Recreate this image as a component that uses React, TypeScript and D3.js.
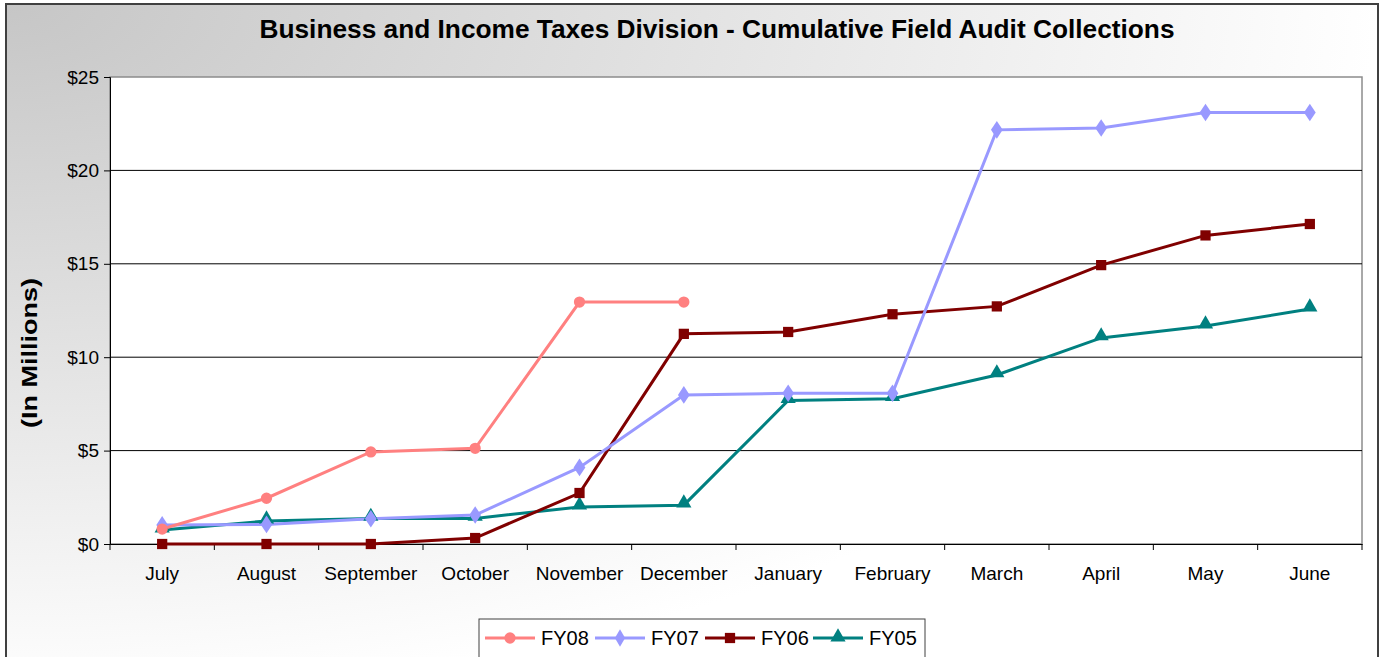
import * as d3 from "d3";
import { useEffect, useRef } from "react";

const months = [
  "July", "August", "September", "October", "November", "December",
  "January", "February", "March", "April", "May", "June",
];

const fy08 = [0.8, 2.45, 4.93, 5.12, 12.95, 12.95];
const fy07 = [1.02, 1.05, 1.35, 1.55, 4.1, 7.98, 8.07, 8.07, 22.17, 22.27, 23.1, 23.1];
const fy06 = [0, 0, 0, 0.32, 2.73, 11.25, 11.35, 12.3, 12.72, 14.93, 16.52, 17.13];
const fy05 = [0.75, 1.23, 1.37, 1.37, 1.98, 2.08, 7.68, 7.78, 9.05, 11.03, 11.67, 12.58];

const yTicks = [0, 5, 10, 15, 20, 25];

const series = [
  { name: "FY08", values: fy08, color: "#ff8080", symbol: d3.symbolCircle, size: 100 },
  { name: "FY07", values: fy07, color: "#9999ff", symbol: d3.symbolDiamond, size: 90 },
  { name: "FY06", values: fy06, color: "#800000", symbol: d3.symbolSquare, size: 105 },
  { name: "FY05", values: fy05, color: "#008080", symbol: d3.symbolTriangle, size: 100 },
];

export default function App() {
  const ref = useRef<SVGSVGElement>(null);

  useEffect(() => {
    if (!ref.current) return;
    const svg = d3.select(ref.current);
    svg.selectAll("*").remove();

    const width = 1383;
    const height = 657;
    const font = "'Liberation Sans', Arial, sans-serif";

    const margin = { left: 110, right: 21, top: 77, bottom: 113 };
    const innerW = width - margin.left - margin.right;
    const innerH = height - margin.top - margin.bottom;

    const defs = svg.append("defs");
    const grad = defs.append("radialGradient")
      .attr("id", "bg")
      .attr("cx", 0).attr("cy", 0).attr("r", 1)
      .attr("fx", 0).attr("fy", 0);
    grad.append("stop").attr("offset", "0%").attr("stop-color", "#c6c6c6");
    grad.append("stop").attr("offset", "100%").attr("stop-color", "#ffffff");

    svg.append("rect")
      .attr("width", width).attr("height", height)
      .attr("fill", "#ffffff");
    svg.append("rect")
      .attr("x", 6).attr("y", 4)
      .attr("width", 1372).attr("height", 700)
      .attr("fill", "url(#bg)")
      .attr("stroke", "#404040")
      .attr("stroke-width", 2);

    const x = d3.scaleBand<string>()
      .domain(months)
      .range([margin.left, margin.left + innerW]);
    const y = d3.scaleLinear()
      .domain([0, 25])
      .range([margin.top + innerH, margin.top]);

    // plot area
    svg.append("rect")
      .attr("x", margin.left).attr("y", margin.top)
      .attr("width", innerW).attr("height", innerH)
      .attr("fill", "#ffffff")
      .attr("stroke", "#8c8c8c")
      .attr("stroke-width", 1.5);

    // gridlines
    svg.append("g")
      .selectAll("line")
      .data(yTicks.filter(t => t > 0 && t < 25))
      .enter()
      .append("line")
      .attr("x1", margin.left).attr("x2", margin.left + innerW)
      .attr("y1", d => y(d)).attr("y2", d => y(d))
      .attr("stroke", "#000")
      .attr("stroke-width", 1);

    // y axis
    const yAxis = svg.append("g")
      .attr("transform", `translate(${margin.left},0)`)
      .call(
        d3.axisLeft(y)
          .tickValues(yTicks)
          .tickSize(6)
          .tickPadding(5)
          .tickFormat(d => `$${d}`)
      );
    yAxis.select(".domain").attr("stroke", "#000");
    yAxis.selectAll("line").attr("stroke", "#000");
    yAxis.selectAll("text")
      .attr("font-family", font)
      .attr("font-size", "19px")
      .attr("fill", "#000");

    // x axis
    const xAxis = svg.append("g")
      .attr("transform", `translate(0,${margin.top + innerH})`)
      .call(d3.axisBottom(x).tickSize(0).tickPadding(23));
    xAxis.select(".domain").attr("stroke", "#000");
    xAxis.selectAll("text")
      .attr("font-family", font)
      .attr("font-size", "19px")
      .attr("fill", "#000");
    // category boundary ticks
    xAxis.append("g")
      .selectAll("line")
      .data(d3.range(months.length + 1))
      .enter()
      .append("line")
      .attr("x1", i => margin.left + i * x.step())
      .attr("x2", i => margin.left + i * x.step())
      .attr("y1", 0).attr("y2", 6)
      .attr("stroke", "#000");

    // lines + markers
    const line = d3.line<number>()
      .x((_, i) => (x(months[i]) as number) + x.bandwidth() / 2)
      .y(d => y(d));

    series.slice().reverse().forEach(s => {
      svg.append("path")
        .datum(s.values)
        .attr("d", line)
        .attr("fill", "none")
        .attr("stroke", s.color)
        .attr("stroke-width", 3);
    });
    series.slice().reverse().forEach(s => {
      const sym = d3.symbol().type(s.symbol).size(s.size);
      svg.append("g")
        .selectAll("path")
        .data(s.values)
        .enter()
        .append("path")
        .attr("d", sym)
        .attr("transform", (d, i) => {
          const cx = (x(months[i]) as number) + x.bandwidth() / 2;
          const dy = s.symbol === d3.symbolTriangle ? -2 : 0;
          const sc = s.symbol === d3.symbolDiamond ? "scale(1.15,1)" : "";
          return `translate(${cx},${y(d) + dy}) ${sc}`;
        })
        .attr("fill", s.color);
    });

    // title
    svg.append("text")
      .attr("x", 717).attr("y", 38)
      .attr("text-anchor", "middle")
      .attr("font-family", font)
      .attr("font-size", "25px")
      .attr("font-weight", "bold")
      .attr("textLength", 915)
      .attr("lengthAdjust", "spacingAndGlyphs")
      .attr("fill", "#000")
      .text("Business and Income Taxes Division - Cumulative Field Audit Collections");

    // y label
    svg.append("text")
      .attr("transform", `translate(37,${353}) rotate(-90)`)
      .attr("text-anchor", "middle")
      .attr("font-family", font)
      .attr("font-size", "22px")
      .attr("font-weight", "bold")
      .attr("textLength", 150)
      .attr("lengthAdjust", "spacingAndGlyphs")
      .attr("fill", "#000")
      .text("(In Millions)");

    // legend
    const legend = svg.append("g").attr("transform", "translate(479,619)");
    legend.append("rect")
      .attr("width", 446).attr("height", 60)
      .attr("fill", "#ffffff")
      .attr("stroke", "#404040")
      .attr("stroke-width", 1);

    const itemX = [6, 116, 226, 334];
    series.forEach((s, i) => {
      const g = legend.append("g").attr("transform", `translate(${itemX[i]},19)`);
      g.append("line")
        .attr("x1", 0).attr("x2", 50)
        .attr("y1", 0).attr("y2", 0)
        .attr("stroke", s.color)
        .attr("stroke-width", 3);
      g.append("path")
        .attr("d", d3.symbol().type(s.symbol).size(s.size)())
        .attr("transform", `translate(25,${s.symbol === d3.symbolTriangle ? -1 : 0})`)
        .attr("fill", s.color);
      g.append("text")
        .attr("x", 56).attr("y", 7)
        .attr("font-family", font)
        .attr("font-size", "20px")
        .attr("fill", "#000")
        .text(s.name);
    });
  }, []);

  return (
    <svg
      ref={ref}
      width={1383}
      height={657}
      style={{ position: "absolute", left: 0, top: 0, display: "block" }}
    />
  );
}
